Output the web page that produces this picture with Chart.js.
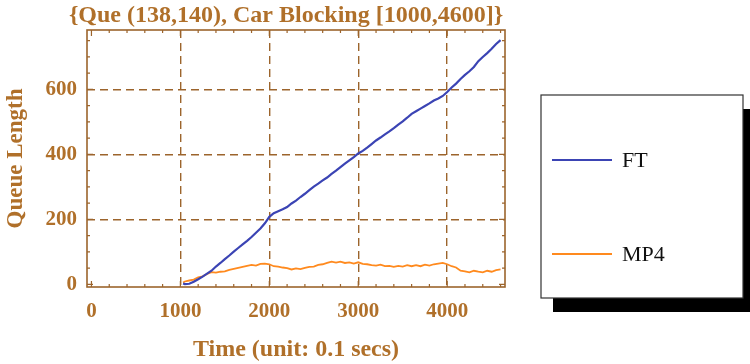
<!DOCTYPE html>
<html>
<head>
<meta charset="utf-8">
<script src="https://cdn.jsdelivr.net/npm/chart.js@4/dist/chart.umd.min.js"></script>
<style>
  html, body { margin: 0; padding: 0; background: #ffffff; }
  #wrap { width: 750px; height: 364px; }
</style>
</head>
<body>
<div id="wrap"><canvas id="chart" width="750" height="364"></canvas></div>
<script>
// ---- data ----
const chartTitle = '{Que (138,140), Car Blocking [1000,4600]}';
const xAxisTitle = 'Time (unit: 0.1 secs)';
const yAxisTitle = 'Queue Length';
const seriesNames = ['FT', 'MP4'];
const xTickValues = [0, 1000, 2000, 3000, 4000];
const yTickValues = [0, 200, 400, 600];

const times = [1030, 1050, 1100, 1150, 1200, 1250, 1300, 1350, 1400, 1450,
  1500, 1550, 1600, 1650, 1700, 1750, 1800, 1850, 1900, 1950,
  2000, 2050, 2100, 2150, 2200, 2250, 2300, 2350, 2400, 2450,
  2500, 2550, 2600, 2650, 2700, 2750, 2800, 2850, 2900, 2950,
  3000, 3050, 3100, 3150, 3200, 3250, 3300, 3350, 3400, 3450,
  3500, 3550, 3600, 3650, 3700, 3750, 3800, 3850, 3900, 3950,
  4000, 4050, 4100, 4150, 4200, 4250, 4300, 4350, 4400, 4450,
  4500, 4550, 4600];

const ftQueue = [3, 1, 2, 8, 16, 24, 33, 42, 55, 66,
  78, 89, 101, 112, 123, 134, 146, 159, 172, 188,
  208, 219, 225, 231, 238, 249, 258, 269, 279, 290,
  301, 310, 320, 329, 340, 350, 361, 372, 382, 392,
  403, 411, 421, 432, 443, 452, 462, 471, 481, 492,
  502, 513, 525, 533, 541, 549, 557, 566, 572, 580,
  592, 606, 618, 632, 645, 656, 669, 687, 700, 712,
  725, 740, 752];

const mp4Queue = [6, 9, 12, 15, 22, 25, 32, 38, 36, 39,
  40, 45, 48, 51, 54, 57, 60, 58, 63, 64,
  62, 56, 55, 52, 50, 46, 49, 47, 51, 54,
  55, 60, 62, 66, 70, 67, 70, 66, 68, 64,
  68, 63, 62, 59, 58, 61, 56, 57, 54, 57,
  55, 59, 56, 59, 56, 61, 58, 62, 64, 66,
  62, 56, 52, 42, 40, 37, 42, 39, 37, 42,
  39, 44, 46];

// ---- styling ----
const frameColor = '#9c642c';
const textColor = '#b0702a';
const ftColor = '#3b44b4';
const mp4Color = '#ff8a1e';
const serif = "'Liberation Serif', 'DejaVu Serif', serif";

// Frame with inward major/minor ticks on all four sides, plus title and legend
const decorations = {
  id: 'decorations',
  afterDraw(chart) {
    const { ctx, chartArea: a, scales } = chart;
    const xs = scales.x, ys = scales.y;
    ctx.save();
    ctx.strokeStyle = frameColor;
    ctx.lineWidth = 1.6;
    ctx.strokeRect(a.left, a.top, a.right - a.left, a.bottom - a.top);

    ctx.lineWidth = 1.2;
    ctx.beginPath();
    for (let v = 0; v <= 4600; v += 200) {
      const px = xs.getPixelForValue(v);
      const len = v % 1000 === 0 ? 6 : 3;
      ctx.moveTo(px, a.bottom); ctx.lineTo(px, a.bottom - len);
      ctx.moveTo(px, a.top); ctx.lineTo(px, a.top + len);
    }
    for (let v = 0; v <= 750; v += 50) {
      const py = ys.getPixelForValue(v);
      const len = v % 200 === 0 ? 6 : 3;
      ctx.moveTo(a.left, py); ctx.lineTo(a.left + len, py);
      ctx.moveTo(a.right, py); ctx.lineTo(a.right - len, py);
    }
    ctx.stroke();

    // title
    ctx.fillStyle = textColor;
    ctx.font = 'bold 24px ' + serif;
    ctx.textAlign = 'center';
    ctx.textBaseline = 'alphabetic';
    ctx.fillText(chartTitle, 286, 22);

    // legend box with drop shadow
    const box = { x: 541, y: 95, w: 202, h: 203 };
    ctx.fillStyle = '#000000';
    ctx.fillRect(box.x + 12, box.y + 14, box.w, box.h);
    ctx.fillStyle = '#ffffff';
    ctx.fillRect(box.x, box.y, box.w, box.h);
    ctx.strokeStyle = '#333333';
    ctx.lineWidth = 1.2;
    ctx.strokeRect(box.x, box.y, box.w, box.h);

    const rows = [160, 254];
    ctx.font = '22px ' + serif;
    ctx.textAlign = 'left';
    ctx.textBaseline = 'middle';
    chart.data.datasets.forEach((ds, i) => {
      ctx.strokeStyle = ds.borderColor;
      ctx.lineWidth = 2;
      ctx.beginPath();
      ctx.moveTo(552, rows[i]);
      ctx.lineTo(612, rows[i]);
      ctx.stroke();
      ctx.fillStyle = '#111111';
      ctx.fillText(ds.label, 622, rows[i] + 1);
    });
    ctx.restore();
  }
};

const gridColor = (ctx) => (ctx.tick && ctx.tick.value !== 0) ? frameColor : 'rgba(0,0,0,0)';

new Chart(document.getElementById('chart'), {
  type: 'line',
  data: {
    datasets: [
      {
        label: seriesNames[0],
        data: times.map((t, i) => ({ x: t, y: ftQueue[i] })),
        borderColor: ftColor,
        borderWidth: 2.2,
        pointRadius: 0,
        tension: 0
      },
      {
        label: seriesNames[1],
        data: times.map((t, i) => ({ x: t, y: mp4Queue[i] })),
        borderColor: mp4Color,
        borderWidth: 1.8,
        pointRadius: 0,
        tension: 0
      }
    ]
  },
  options: {
    responsive: false,
    animation: false,
    devicePixelRatio: 1,
    layout: { padding: { top: 30, right: 245, left: 0, bottom: 0 } },
    plugins: {
      legend: { display: false },
      tooltip: { enabled: false }
    },
    scales: {
      x: {
        type: 'linear',
        min: -50,
        max: 4650,
        afterFit: (s) => { s.height = 77; },
        afterBuildTicks: (s) => { s.ticks = xTickValues.map(v => ({ value: v })); },
        ticks: {
          callback: (v) => String(v),
          color: textColor,
          font: { family: serif, size: 21, weight: 'bold' },
          padding: 12,
          maxRotation: 0
        },
        grid: { color: gridColor, lineWidth: 1.4, drawTicks: false },
        border: { display: false, dash: [8, 5] },
        title: {
          display: true,
          text: xAxisTitle,
          color: textColor,
          font: { family: serif, size: 24, weight: 'bold' },
          padding: { top: 0, bottom: 0 }
        }
      },
      y: {
        type: 'linear',
        min: -8,
        max: 783,
        afterFit: (s) => { s.width = 87; },
        afterBuildTicks: (s) => { s.ticks = yTickValues.map(v => ({ value: v })); },
        ticks: {
          callback: (v) => String(v),
          color: textColor,
          font: { family: serif, size: 21, weight: 'bold' },
          padding: 10
        },
        grid: { color: gridColor, lineWidth: 1.4, drawTicks: false },
        border: { display: false, dash: [8, 5] },
        title: {
          display: true,
          text: yAxisTitle,
          color: textColor,
          font: { family: serif, size: 23, weight: 'bold' },
          padding: { top: 2, bottom: 0 }
        }
      }
    }
  },
  plugins: [decorations]
});
</script>
</body>
</html>
